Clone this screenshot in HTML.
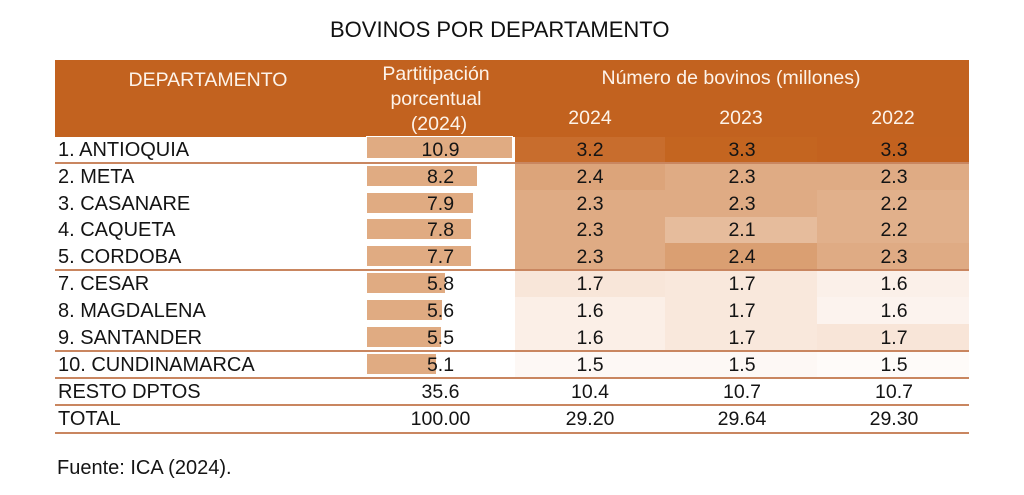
<!DOCTYPE html>
<html>
<head>
<meta charset="utf-8">
<style>
  html, body { margin:0; padding:0; background:#ffffff; }
  body { width:1024px; height:495px; position:relative; overflow:hidden;
         font-family:"Liberation Sans", Arial, sans-serif; color:#141414; }
  .a { position:absolute; }
  .t { position:absolute; font-size:19.5px; line-height:22px; white-space:nowrap; }
  .l { font-size:20px; }
  .h { color:#fdf3e9; }
  .c { text-align:center; }
  .line { position:absolute; left:55px; width:914px; height:2px; background:#c98660; }
  .bar { position:absolute; left:367px; height:20px; background:#e0ab82; }
</style>
</head>
<body>

<!-- Title -->
<div class="a" style="left:330px; top:17px; font-size:22px; line-height:26px; white-space:nowrap; color:#111;">BOVINOS POR DEPARTAMENTO</div>

<!-- Header -->
<div class="a" style="left:55px; top:60px; width:914px; height:77px; background:#c2621f;"></div>
<div class="t h c" style="left:55px; width:306px; top:69px;">DEPARTAMENTO</div>
<div class="t h c" style="left:366px; width:140px; top:63px;">Partitipación</div>
<div class="t h c" style="left:366px; width:140px; top:88px;">porcentual</div>
<div class="t h c" style="left:366px; width:146px; top:113px;">(2024)</div>
<div class="t h c" style="left:515px; width:432px; top:67px;">Número de bovinos (millones)</div>
<div class="t h c" style="left:515px; width:150px; top:107px;">2024</div>
<div class="t h c" style="left:665px; width:152px; top:107px;">2023</div>
<div class="t h c" style="left:817px; width:152px; top:107px;">2022</div>

<!-- Heatmap cells -->
<div class="a" style="left:515px; top:137px; width:150px; height:26px; background:#c86d2d;"></div>
<div class="a" style="left:665px; top:137px; width:152px; height:26px; background:#c46520;"></div>
<div class="a" style="left:817px; top:137px; width:152px; height:26px; background:#c3621f;"></div>

<div class="a" style="left:515px; top:163px; width:150px; height:27px; background:#dca47a;"></div>
<div class="a" style="left:665px; top:163px; width:152px; height:27px; background:#dfab84;"></div>
<div class="a" style="left:817px; top:163px; width:152px; height:27px; background:#dfab84;"></div>

<div class="a" style="left:515px; top:190px; width:150px; height:27px; background:#dfab84;"></div>
<div class="a" style="left:665px; top:190px; width:152px; height:27px; background:#dfab84;"></div>
<div class="a" style="left:817px; top:190px; width:152px; height:27px; background:#e1b08b;"></div>

<div class="a" style="left:515px; top:217px; width:150px; height:26px; background:#dfab84;"></div>
<div class="a" style="left:665px; top:217px; width:152px; height:26px; background:#e6bc9c;"></div>
<div class="a" style="left:817px; top:217px; width:152px; height:26px; background:#e1b08b;"></div>

<div class="a" style="left:515px; top:243px; width:150px; height:27px; background:#dfab84;"></div>
<div class="a" style="left:665px; top:243px; width:152px; height:27px; background:#da9f72;"></div>
<div class="a" style="left:817px; top:243px; width:152px; height:27px; background:#dfab84;"></div>

<div class="a" style="left:515px; top:270px; width:150px; height:27px; background:#f8e6d9;"></div>
<div class="a" style="left:665px; top:270px; width:152px; height:27px; background:#f9e8dc;"></div>
<div class="a" style="left:817px; top:270px; width:152px; height:27px; background:#fbf0e9;"></div>

<div class="a" style="left:515px; top:297px; width:150px; height:27px; background:#fbefe7;"></div>
<div class="a" style="left:665px; top:297px; width:152px; height:27px; background:#f9e8dc;"></div>
<div class="a" style="left:817px; top:297px; width:152px; height:27px; background:#fcf3ee;"></div>

<div class="a" style="left:515px; top:324px; width:150px; height:27px; background:#fbefe7;"></div>
<div class="a" style="left:665px; top:324px; width:152px; height:27px; background:#f9e8dc;"></div>
<div class="a" style="left:817px; top:324px; width:152px; height:27px; background:#f8e5d8;"></div>

<div class="a" style="left:515px; top:351px; width:150px; height:27px; background:#fdf8f5;"></div>
<div class="a" style="left:665px; top:351px; width:152px; height:27px; background:#fdf8f5;"></div>
<div class="a" style="left:817px; top:351px; width:152px; height:27px; background:#fefbf9;"></div>

<!-- Horizontal rules -->
<div class="line" style="top:162px;"></div>
<div class="line" style="top:269px;"></div>
<div class="line" style="top:350px;"></div>
<div class="line" style="top:377px;"></div>
<div class="line" style="top:404px;"></div>
<div class="line" style="top:432px;"></div>

<!-- Participation bars -->
<div class="a" style="left:366px; top:136px; width:145px; height:21px; background:#e0ab82; border:1.5px solid #ffffff;"></div>
<div class="bar" style="top:166px; width:110px;"></div>
<div class="bar" style="top:193px; width:106px;"></div>
<div class="bar" style="top:219px; width:104px;"></div>
<div class="bar" style="top:246px; width:104px;"></div>
<div class="bar" style="top:273px; width:78px;"></div>
<div class="bar" style="top:300px; width:75px;"></div>
<div class="bar" style="top:327px; width:74px;"></div>
<div class="bar" style="top:354px; width:69px;"></div>

<!-- Row labels -->
<div class="t l" style="left:58px; top:139px;">1. ANTIOQUIA</div>
<div class="t l" style="left:58px; top:166px;">2. META</div>
<div class="t l" style="left:58px; top:193px;">3. CASANARE</div>
<div class="t l" style="left:58px; top:219px;">4. CAQUETA</div>
<div class="t l" style="left:58px; top:246px;">5. CORDOBA</div>
<div class="t l" style="left:58px; top:273px;">7. CESAR</div>
<div class="t l" style="left:58px; top:300px;">8. MAGDALENA</div>
<div class="t l" style="left:58px; top:327px;">9. SANTANDER</div>
<div class="t l" style="left:58px; top:354px;">10. CUNDINAMARCA</div>
<div class="t l" style="left:58px; top:381px;">RESTO DPTOS</div>
<div class="t l" style="left:58px; top:408px;">TOTAL</div>

<!-- Participation values -->
<div class="t c" style="left:366px; width:149px; top:139px;">10.9</div>
<div class="t c" style="left:366px; width:149px; top:166px;">8.2</div>
<div class="t c" style="left:366px; width:149px; top:193px;">7.9</div>
<div class="t c" style="left:366px; width:149px; top:219px;">7.8</div>
<div class="t c" style="left:366px; width:149px; top:246px;">7.7</div>
<div class="t c" style="left:366px; width:149px; top:273px;">5.8</div>
<div class="t c" style="left:366px; width:149px; top:300px;">5.6</div>
<div class="t c" style="left:366px; width:149px; top:327px;">5.5</div>
<div class="t c" style="left:366px; width:149px; top:354px;">5.1</div>
<div class="t c" style="left:366px; width:149px; top:381px;">35.6</div>
<div class="t c" style="left:366px; width:149px; top:408px;">100.00</div>

<!-- 2024 -->
<div class="t c" style="left:515px; width:150px; top:139px;">3.2</div>
<div class="t c" style="left:515px; width:150px; top:166px;">2.4</div>
<div class="t c" style="left:515px; width:150px; top:193px;">2.3</div>
<div class="t c" style="left:515px; width:150px; top:219px;">2.3</div>
<div class="t c" style="left:515px; width:150px; top:246px;">2.3</div>
<div class="t c" style="left:515px; width:150px; top:273px;">1.7</div>
<div class="t c" style="left:515px; width:150px; top:300px;">1.6</div>
<div class="t c" style="left:515px; width:150px; top:327px;">1.6</div>
<div class="t c" style="left:515px; width:150px; top:354px;">1.5</div>
<div class="t c" style="left:515px; width:150px; top:381px;">10.4</div>
<div class="t c" style="left:515px; width:150px; top:408px;">29.20</div>

<!-- 2023 -->
<div class="t c" style="left:666px; width:152px; top:139px;">3.3</div>
<div class="t c" style="left:666px; width:152px; top:166px;">2.3</div>
<div class="t c" style="left:666px; width:152px; top:193px;">2.3</div>
<div class="t c" style="left:666px; width:152px; top:219px;">2.1</div>
<div class="t c" style="left:666px; width:152px; top:246px;">2.4</div>
<div class="t c" style="left:666px; width:152px; top:273px;">1.7</div>
<div class="t c" style="left:666px; width:152px; top:300px;">1.7</div>
<div class="t c" style="left:666px; width:152px; top:327px;">1.7</div>
<div class="t c" style="left:666px; width:152px; top:354px;">1.5</div>
<div class="t c" style="left:666px; width:152px; top:381px;">10.7</div>
<div class="t c" style="left:666px; width:152px; top:408px;">29.64</div>

<!-- 2022 -->
<div class="t c" style="left:818px; width:152px; top:139px;">3.3</div>
<div class="t c" style="left:818px; width:152px; top:166px;">2.3</div>
<div class="t c" style="left:818px; width:152px; top:193px;">2.2</div>
<div class="t c" style="left:818px; width:152px; top:219px;">2.2</div>
<div class="t c" style="left:818px; width:152px; top:246px;">2.3</div>
<div class="t c" style="left:818px; width:152px; top:273px;">1.6</div>
<div class="t c" style="left:818px; width:152px; top:300px;">1.6</div>
<div class="t c" style="left:818px; width:152px; top:327px;">1.7</div>
<div class="t c" style="left:818px; width:152px; top:354px;">1.5</div>
<div class="t c" style="left:818px; width:152px; top:381px;">10.7</div>
<div class="t c" style="left:818px; width:152px; top:408px;">29.30</div>

<!-- Source -->
<div class="t l" style="left:57px; top:457px;">Fuente: ICA (2024).</div>

</body>
</html>
